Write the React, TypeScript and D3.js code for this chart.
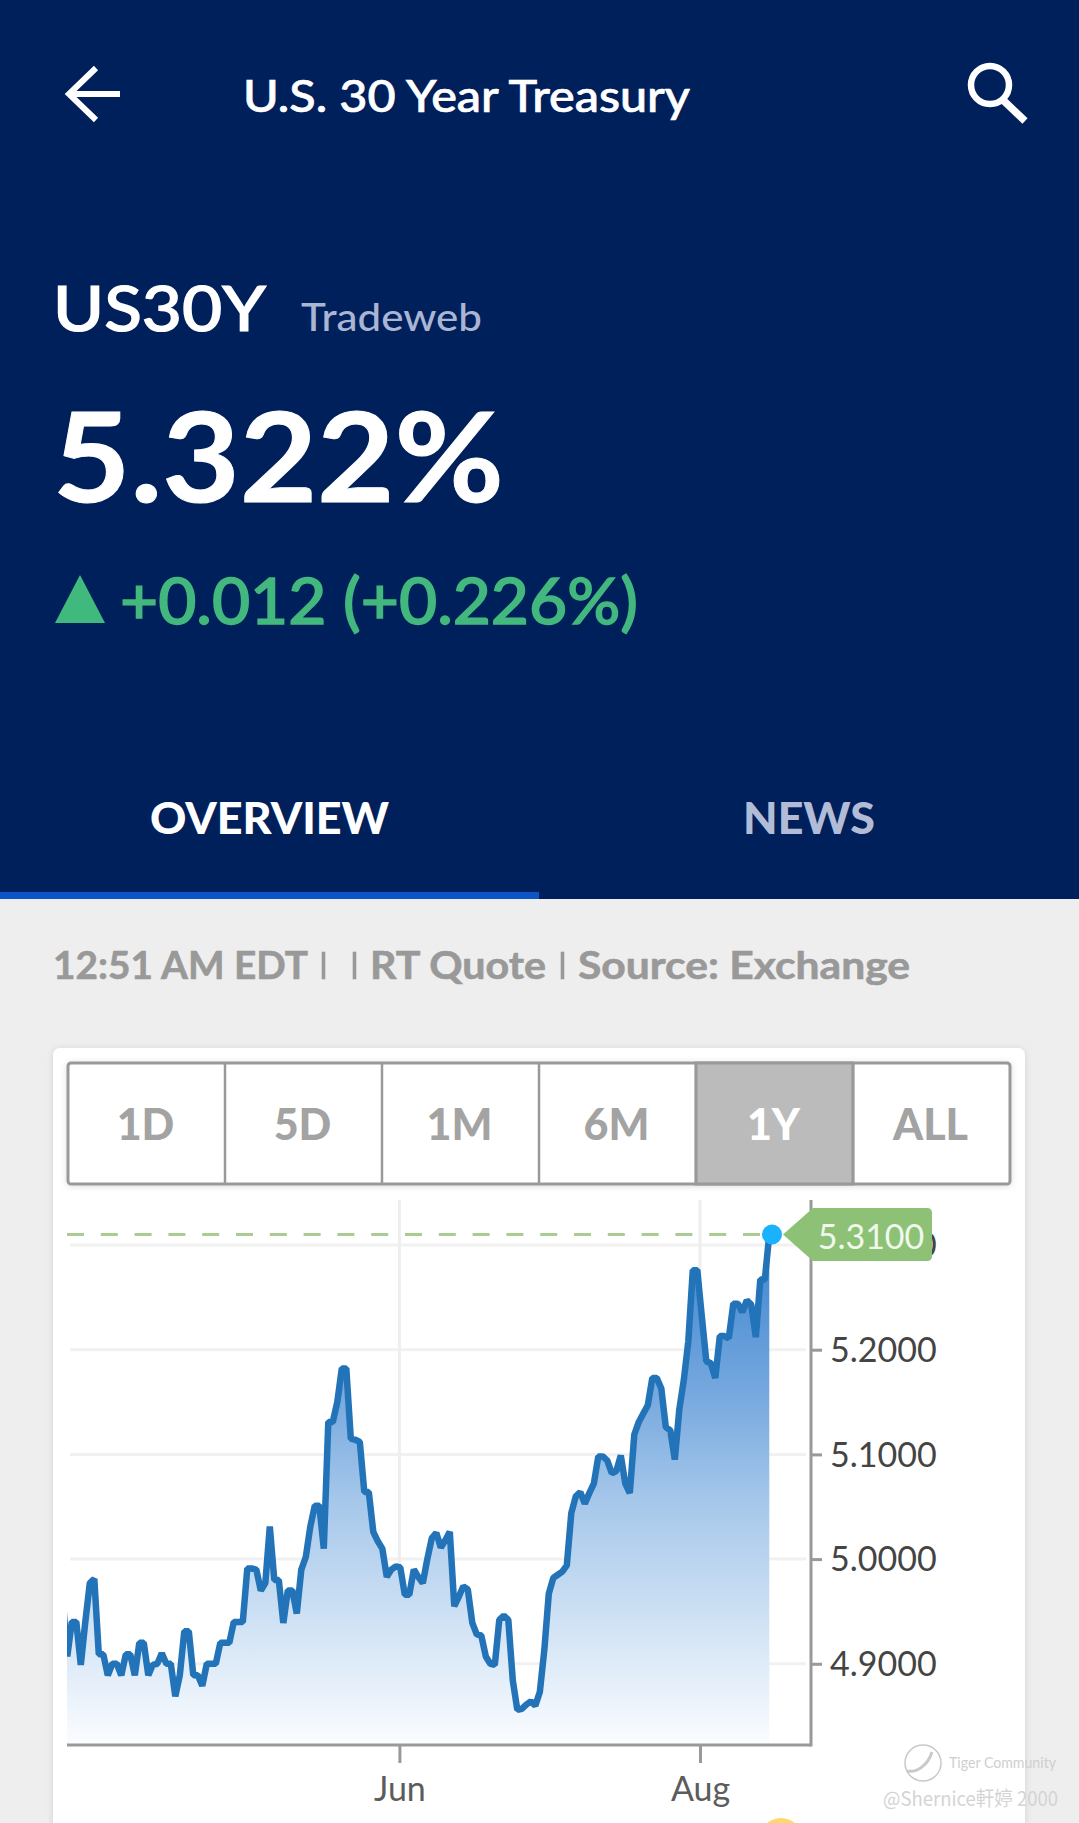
import { useEffect, useRef } from 'react';
import * as d3 from 'd3';

const W = 1079, H = 1823;

// yields, one per session
const yieldsA = [
  4.961, 4.907, 4.94, 4.94, 4.899, 4.94, 4.977, 4.981, 4.909, 4.909, 4.889, 4.9, 4.9, 4.889, 4.909, 4.909,
  4.889, 4.92, 4.92, 4.889, 4.899, 4.9, 4.91, 4.9, 4.9, 4.869, 4.889, 4.931, 4.931, 4.889, 4.889, 4.879,
  4.9, 4.9, 4.9, 4.92, 4.92, 4.92, 4.94, 4.94, 4.94, 4.991, 4.991,
];
const yieldsB = [
  4.99, 4.97, 4.977, 5.031, 4.98, 4.98, 4.939, 4.97, 4.97, 4.948, 4.99, 5.002, 5.031, 5.051, 5.051, 5.01,
  5.131, 5.131, 5.15, 5.182, 5.182, 5.115, 5.114, 5.112, 5.064, 5.064, 5.026, 5.017, 5.01, 4.983, 4.99,
  4.993, 4.992, 4.966, 4.966, 4.99, 4.983, 4.977,
];
const yieldsC = [
  5.0, 5.02, 5.025, 5.011, 5.018, 5.026, 4.955, 4.964, 4.974, 4.971, 4.939, 4.928, 4.927, 4.907, 4.9, 4.899,
  4.942, 4.946, 4.942, 4.884, 4.856, 4.857, 4.861, 4.864, 4.86, 4.873, 4.913, 4.967, 4.982, 4.985, 4.988,
  4.994, 5.044, 5.06, 5.064, 5.053, 5.063,
];
const yieldsD = [
  5.072, 5.098, 5.098, 5.094, 5.082, 5.084, 5.099, 5.072, 5.063, 5.119, 5.131, 5.139, 5.147, 5.173, 5.173,
  5.163, 5.126, 5.123, 5.095, 5.143, 5.171, 5.208, 5.276, 5.276, 5.232, 5.189, 5.187, 5.173, 5.213, 5.213,
  5.211, 5.244, 5.244, 5.236, 5.247, 5.243, 5.212, 5.267, 5.267, 5.31,
];
const yields = [...yieldsA, ...yieldsB, ...yieldsC, ...yieldsD];

const yTicks = [4.9, 5.0, 5.1, 5.2, 5.3];
const monthAt = [74.8, 141.6]; // session index where the month starts
const monthLabels = ['Jun', 'Aug'];
const ranges = ['1D', '5D', '1M', '6M', '1Y', 'ALL'];
const activeRange = '1Y';
const lastValue = 5.31;

const FONT = 'Lato, "Open Sans", sans-serif';

export default function App() {
  const chartRef = useRef<SVGGElement>(null);

  useEffect(() => {
    if (!chartRef.current) return;
    const g = d3.select(chartRef.current);
    g.selectAll('*').remove();

    const LEFT = 67, RIGHT = 811, TOP = 1200, BOTTOM = 1745;
    const x = d3.scaleLinear().domain([0, yields.length - 1]).range([62.8, 769.3]);
    const y = d3.scaleLinear().domain([4.8224, 5.343]).range([BOTTOM, TOP]);

    const defs = g.append('defs');
    const grad = defs.append('linearGradient').attr('id', 'areaFill')
      .attr('gradientUnits', 'userSpaceOnUse')
      .attr('x1', 0).attr('x2', 0).attr('y1', y(lastValue)).attr('y2', BOTTOM);
    grad.append('stop').attr('offset', '0%').attr('stop-color', '#3a84cf');
    grad.append('stop').attr('offset', '32%').attr('stop-color', '#78a9df');
    grad.append('stop').attr('offset', '52%').attr('stop-color', '#a5c7ea');
    grad.append('stop').attr('offset', '100%').attr('stop-color', '#fbfdff');
    defs.append('clipPath').attr('id', 'plotClip').append('rect')
      .attr('x', LEFT).attr('y', TOP).attr('width', RIGHT - LEFT).attr('height', BOTTOM - TOP);

    // grid
    g.append('g').selectAll('line').data(yTicks).join('line')
      .attr('x1', 70).attr('x2', 806)
      .attr('y1', (d) => y(d)).attr('y2', (d) => y(d))
      .attr('stroke', '#f1f1f1').attr('stroke-width', 3);
    g.append('g').selectAll('line').data(monthAt).join('line')
      .attr('x1', (d) => x(d)).attr('x2', (d) => x(d))
      .attr('y1', TOP).attr('y2', BOTTOM)
      .attr('stroke', '#eeeeee').attr('stroke-width', 3);

    const plot = g.append('g').attr('clip-path', 'url(#plotClip)');
    const area = d3.area<number>().x((_, i) => x(i)).y0(BOTTOM).y1((d) => y(d));
    const line = d3.line<number>().x((_, i) => x(i)).y((d) => y(d));
    plot.append('path').attr('d', area(yields)).attr('fill', 'url(#areaFill)');
    plot.append('path').attr('d', line(yields))
      .attr('fill', 'none').attr('stroke', '#2273b7').attr('stroke-width', 6.5)
      .attr('stroke-linejoin', 'bevel');

    // last value marker line
    const lastY = y(lastValue);
    g.append('line')
      .attr('x1', LEFT).attr('x2', 772).attr('y1', lastY).attr('y2', lastY)
      .attr('stroke', '#a8cc92').attr('stroke-width', 3).attr('stroke-dasharray', '17 16.8');

    // axes
    const axisY = d3.axisRight(y).tickValues(yTicks).tickSize(11).tickPadding(8)
      .tickFormat((d) => d3.format('.4f')(d as number));
    const yG = g.append('g').attr('transform', `translate(${RIGHT},0)`).call(axisY);
    const axisX = d3.axisBottom(x).tickValues(monthAt).tickSize(18).tickPadding(14)
      .tickFormat((_, i) => monthLabels[i]);
    const xG = g.append('g').attr('transform', `translate(0,${BOTTOM})`).call(axisX);
    [yG, xG].forEach((a) => {
      a.select('.domain').remove();
      a.selectAll('.tick line').attr('stroke', '#999999').attr('stroke-width', 3);
      a.selectAll('.tick text').attr('font-family', FONT).attr('font-size', 34);
    });
    yG.selectAll('.tick text').attr('fill', '#444444').attr('dy', '0.35em');
    xG.selectAll('.tick text').attr('fill', '#5c5c5c');
    g.append('line').attr('x1', RIGHT).attr('x2', RIGHT).attr('y1', TOP).attr('y2', BOTTOM + 1.5)
      .attr('stroke', '#999999').attr('stroke-width', 3);
    g.append('line').attr('x1', LEFT).attr('x2', RIGHT).attr('y1', BOTTOM).attr('y2', BOTTOM)
      .attr('stroke', '#999999').attr('stroke-width', 3);

    // price tag on top of the 5.3000 label
    const tagH = 53, tagX = 783, tagR = 5, tagEnd = 932, tagBody = 813;
    const t = d3.path();
    t.moveTo(tagX, lastY);
    t.lineTo(tagBody, lastY - tagH / 2);
    t.lineTo(tagEnd - tagR, lastY - tagH / 2);
    t.quadraticCurveTo(tagEnd, lastY - tagH / 2, tagEnd, lastY - tagH / 2 + tagR);
    t.lineTo(tagEnd, lastY + tagH / 2 - tagR);
    t.quadraticCurveTo(tagEnd, lastY + tagH / 2, tagEnd - tagR, lastY + tagH / 2);
    t.lineTo(tagBody, lastY + tagH / 2);
    t.closePath();
    g.append('path').attr('d', t.toString()).attr('fill', '#8cc176');
    g.append('text').attr('x', 871).attr('y', lastY + 14).attr('text-anchor', 'middle')
      .attr('font-family', FONT).attr('font-size', 34).attr('fill', '#f1f8ec')
      .text(d3.format('.4f')(lastValue));
    g.append('circle').attr('cx', 772).attr('cy', lastY).attr('r', 10).attr('fill', '#1ab1fd');
  }, []);

  const cellW = 157;
  return (
    <svg
      width={W}
      height={H}
      viewBox={`0 0 ${W} ${H}`}
      style={{ position: 'absolute', left: 0, top: 0, display: 'block' }}
      fontFamily={FONT}
    >
      <defs>
        <filter id="soft" x="-5%" y="-5%" width="110%" height="110%">
          <feDropShadow dx="0" dy="1" stdDeviation="3" floodColor="#000" floodOpacity="0.13" />
        </filter>
      </defs>
      <rect width={W} height={H} fill="#eeeeee" />

      {/* header */}
      <rect width={W} height={899} fill="#00205b" />
      <path d="M120 94H70M96 68L69 94L96 120" fill="none" stroke="#fff" strokeWidth={6} />
      <circle cx={990} cy={85} r={19} fill="none" stroke="#fff" strokeWidth={6.5} />
      <path d="M1003 100L1025 121" stroke="#fff" strokeWidth={7.5} />
      <text x={243} y={112} fontSize={44} fontWeight={500} fill="#fff" stroke="#fff" strokeWidth={0.7} textLength={447} lengthAdjust="spacingAndGlyphs">U.S. 30 Year Treasury</text>
      <text x={53} y={331} fontSize={62} fontWeight={500} fill="#fff" stroke="#fff" strokeWidth={1.2} textLength={213} lengthAdjust="spacingAndGlyphs">US30Y</text>
      <text x={301} y={331} fontSize={38} fontWeight={500} fill="#aab5d4" textLength={181} lengthAdjust="spacingAndGlyphs">Tradeweb</text>
      <text x={53} y={502} fontSize={125} fontWeight={700} fill="#fff" stroke="#fff" strokeWidth={1} textLength={451} lengthAdjust="spacingAndGlyphs">5.322%</text>
      <path d="M55 623L80 575L105 623Z" fill="#3fba7c" />
      <text x={120} y={624} fontSize={64} fontWeight={500} fill="#43b87e" stroke="#43b87e" strokeWidth={1.4} textLength={518} lengthAdjust="spacingAndGlyphs">+0.012 (+0.226%)</text>
      <text x={150} y={834} fontSize={44} fontWeight={900} fill="#fff" textLength={239} lengthAdjust="spacingAndGlyphs">OVERVIEW</text>
      <text x={743} y={834} fontSize={44} fontWeight={900} fill="#b3bcd7" textLength={132} lengthAdjust="spacingAndGlyphs">NEWS</text>
      <rect y={892} width={539} height={7} fill="#0b55c6" />

      {/* status line */}
      <g fontSize={38} fontWeight={700} fill="#999999" stroke="#999999" strokeWidth={0.6}>
        <text x={53} y={979} textLength={255} lengthAdjust="spacingAndGlyphs">12:51 AM EDT</text>
        <text x={370} y={979} textLength={176} lengthAdjust="spacingAndGlyphs">RT Quote</text>
        <text x={578} y={979} textLength={332} lengthAdjust="spacingAndGlyphs">Source: Exchange</text>
        <rect x={322} y={952} width={3} height={27} />
        <rect x={353} y={952} width={3} height={27} />
        <rect x={561} y={952} width={3} height={27} />
      </g>

      {/* card and range buttons */}
      <rect x={53} y={1048} width={972} height={800} rx={7} fill="#fff" filter="url(#soft)" />
      <g>
        <rect x={68} y={1063} width={942} height={121} rx={3} fill="#fff" stroke="#999999" strokeWidth={3} filter="url(#soft)" />
        {ranges.map((r, i) => (
          <g key={r}>
            {r === activeRange && (
              <rect x={68 + i * cellW} y={1063} width={cellW} height={121} fill="#bbbbbb" stroke="#999999" strokeWidth={3} />
            )}
            {i > 0 && <line x1={68 + i * cellW} x2={68 + i * cellW} y1={1063} y2={1184} stroke="#999999" strokeWidth={2.5} />}
            <text x={68 + (i + 0.5) * cellW - 1} y={1140} fontSize={43} fontWeight={900} textAnchor="middle" fill={r === activeRange ? '#ffffff' : '#a3a3a3'}>{r}</text>
          </g>
        ))}
      </g>

      <g ref={chartRef} />

      {/* watermark and the sliver of the button below */}
      <circle cx={781} cy={1840} r={22} fill="#ffd968" />
      <circle cx={923} cy={1763} r={18} fill="none" stroke="#c9c9c9" strokeWidth={1.5} />
      <path d="M907 1771C917 1773 928 1765 932 1752" fill="none" stroke="#c9c9c9" strokeWidth={3} />
      <text x={949} y={1768} fontSize={15} fill="#cfcfcf" textLength={107} lengthAdjust="spacingAndGlyphs">Tiger Community</text>
      <text x={883} y={1806} fontSize={20} fill="#d4d4d4" fontFamily={'"Noto Sans CJK TC", Lato, sans-serif'} textLength={175} lengthAdjust="spacingAndGlyphs">@Shernice軒婷 2000</text>
    </svg>
  );
}
